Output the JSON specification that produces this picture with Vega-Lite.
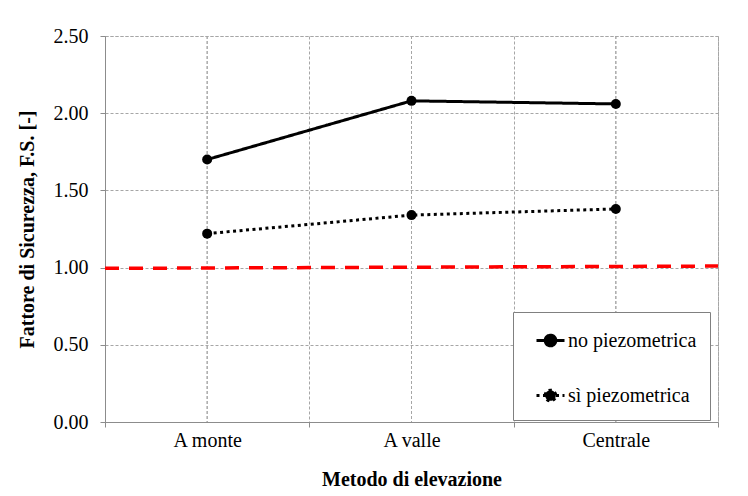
{
  "$schema": "https://vega.github.io/schema/vega-lite/v6.json",
  "width": 613,
  "height": 386,
  "autosize": {"type": "none"},
  "padding": {"left": 105, "top": 36, "right": 30, "bottom": 74},
  "background": "white",
  "config": {
    "view": {"stroke": "#a6a6a6", "strokeDash": [3, 2]},
    "font": "Liberation Serif, Times New Roman, serif",
    "legend": {"labelFont": "Liberation Serif, Times New Roman, serif", "labelFontSize": 20}
  },
  "datasets": {
    "serie": [
      {"metodo": "A monte", "serie": "no piezometrica", "fs": 1.70},
      {"metodo": "A valle", "serie": "no piezometrica", "fs": 2.08},
      {"metodo": "Centrale", "serie": "no piezometrica", "fs": 2.06},
      {"metodo": "A monte", "serie": "sì piezometrica", "fs": 1.22},
      {"metodo": "A valle", "serie": "sì piezometrica", "fs": 1.34},
      {"metodo": "Centrale", "serie": "sì piezometrica", "fs": 1.38}
    ],
    "soglia": [
      {"da": "A monte", "a": "Centrale", "inizio": 0.995, "fine": 1.01}
    ]
  },
  "layer": [
    {
      "data": {"name": "serie"},
      "mark": {"type": "rule", "color": "#a6a6a6", "strokeDash": [3, 2], "strokeWidth": 1},
      "encoding": {
        "x": {
          "field": "metodo", "type": "nominal",
          "scale": {"type": "band", "paddingInner": 0, "paddingOuter": 0, "domain": ["A monte", "A valle", "Centrale"]},
          "axis": {
            "title": "Metodo di elevazione",
            "labelAngle": 0,
            "tickBand": "extent",
            "grid": true,
            "gridColor": "#a6a6a6",
            "gridDash": [3, 2],
            "domainColor": "#8c8c8c",
            "tickColor": "#8c8c8c",
            "tickSize": 5,
            "labelFont": "Liberation Serif, Times New Roman, serif",
            "labelFontSize": 20,
            "labelColor": "black",
            "labelPadding": 3,
            "titleFont": "Liberation Serif, Times New Roman, serif",
            "titleFontSize": 20,
            "titleFontWeight": "bold",
            "titleColor": "black",
            "titlePadding": 19
          }
        }
      }
    },
    {
      "data": {"name": "soglia"},
      "mark": {"type": "rule", "color": "#ff0000", "strokeWidth": 3.5, "strokeDash": [14, 10]},
      "encoding": {
        "x": {"field": "da", "type": "nominal", "bandPosition": 0},
        "x2": {"field": "a", "bandPosition": 1},
        "y": {"field": "inizio", "type": "quantitative"},
        "y2": {"field": "fine"}
      }
    },
    {
      "data": {"name": "serie"},
      "mark": {"type": "line", "color": "black", "strokeWidth": 3},
      "encoding": {
        "x": {"field": "metodo", "type": "nominal"},
        "y": {
          "field": "fs", "type": "quantitative",
          "scale": {"domain": [0, 2.5], "nice": false},
          "axis": {
            "title": "Fattore di Sicurezza, F.S. [-]",
            "values": [0, 0.5, 1, 1.5, 2, 2.5],
            "format": ".2f",
            "grid": true,
            "gridColor": "#a6a6a6",
            "gridDash": [3, 2],
            "domainColor": "#8c8c8c",
            "tickColor": "#8c8c8c",
            "tickSize": 5,
            "labelFont": "Liberation Serif, Times New Roman, serif",
            "labelFontSize": 20,
            "labelColor": "black",
            "labelPadding": 12,
            "titleFont": "Liberation Serif, Times New Roman, serif",
            "titleFontSize": 20,
            "titleFontWeight": "bold",
            "titleColor": "black",
            "titlePadding": 16
          }
        },
        "strokeDash": {
          "field": "serie", "type": "nominal",
          "scale": {"domain": ["no piezometrica", "sì piezometrica"], "range": [[1, 0], [3, 3.5]]},
          "legend": {
            "title": null,
            "orient": "none",
            "legendX": 408,
            "legendY": 276,
            "padding": 13,
            "strokeColor": "#808080",
            "fillColor": "white",
            "symbolType": "M-1,0L1,0M-0.38,0A0.38,0.38,0,1,1,0.38,0A0.38,0.38,0,1,1,-0.38,0Z",
            "symbolSize": 784,
            "symbolOffset": 9,
            "symbolStrokeWidth": 3,
            "symbolFillColor": "black",
            "symbolStrokeColor": "black",
            "labelFont": "Liberation Serif, Times New Roman, serif",
            "labelFontSize": 20,
            "labelColor": "black",
            "labelOffset": 2,
            "rowPadding": 28,
            "encode": {
              "symbols": {"update": {"fill": {"value": "black"}, "stroke": {"value": "black"}, "strokeWidth": {"value": 3}}},
              "labels": {"update": {"font": {"value": "Liberation Serif, Times New Roman, serif"}, "fontSize": {"value": 20}}}
            }
          }
        }
      }
    },
    {
      "data": {"name": "serie"},
      "mark": {"type": "point", "filled": true, "color": "black", "opacity": 1, "size": 100},
      "encoding": {
        "x": {"field": "metodo", "type": "nominal"},
        "y": {"field": "fs", "type": "quantitative"}
      }
    }
  ]
}
